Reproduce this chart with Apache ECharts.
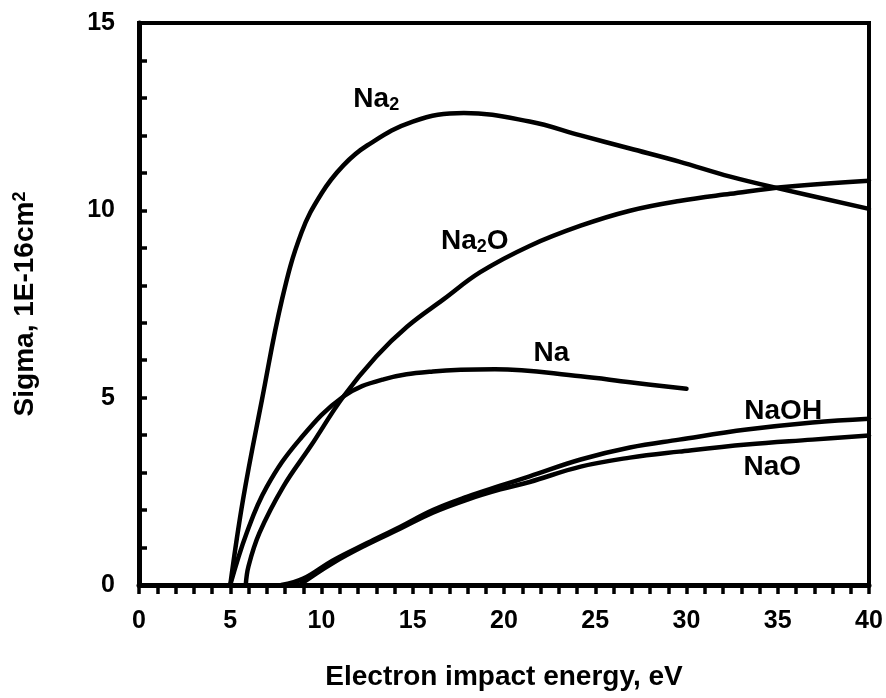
<!DOCTYPE html>
<html>
<head>
<meta charset="utf-8">
<script src="https://cdn.jsdelivr.net/npm/echarts@6/dist/echarts.min.js"></script>
<style>html,body{margin:0;padding:0;background:#fff;}#c{width:886px;height:698px;}</style>
</head>
<body>
<div id="c"></div>
<script>
// ---- data (x: electron energy eV, y: sigma 1E-16 cm^2) ----
const na2X  = [5.0, 5.7, 6.74, 7.84, 8.9, 10.0, 11.2, 12.5, 15.0, 17.8, 21.4, 24.2, 26.9, 29.6, 32.4, 35.1, 40];
const na2Y  = [0, 2.28, 4.95, 7.63, 9.4, 10.45, 11.2, 11.73, 12.37, 12.6, 12.37, 12.0, 11.65, 11.3, 10.9, 10.58, 10.04];
const na2oX = [5.85, 6.0, 6.6, 7.9, 9.4, 11.2, 13.0, 14.7, 16.7, 18.7, 21.4, 24.2, 26.9, 29.6, 32.4, 35.5, 40];
const na2oY = [0, 0.5, 1.39, 2.62, 3.7, 5.03, 6.1, 6.9, 7.63, 8.35, 9.05, 9.59, 9.99, 10.25, 10.44, 10.63, 10.79];
const naX   = [5.0, 5.9, 7.0, 8.8, 11.2, 13.4, 16.1, 19.5, 24.2, 26.9, 30.0];
const naY   = [0, 1.39, 2.62, 3.88, 5.03, 5.49, 5.70, 5.76, 5.57, 5.41, 5.24];
const naohX = [7.8, 9.0, 10.6, 12.5, 14.3, 16.1, 18.0, 19.8, 21.4, 24.2, 26.9, 29.6, 33.3, 36.9, 40];
const naohY = [0, 0.17, 0.65, 1.12, 1.55, 2.0, 2.36, 2.65, 2.9, 3.35, 3.67, 3.88, 4.15, 4.34, 4.44];
const naoX  = [8.8, 10.6, 12.5, 14.3, 16.1, 18.0, 19.8, 21.4, 24.2, 26.9, 29.6, 33.3, 36.9, 40];
const naoY  = [0, 0.58, 1.08, 1.5, 1.93, 2.28, 2.55, 2.75, 3.16, 3.40, 3.56, 3.75, 3.88, 3.99];
// curve labels: [x, y] in data units
const labelNa2  = [13.0, 12.96];
const labelNa2O = [18.4, 9.18];
const labelNa   = [22.6, 6.18];
const labelNaOH = [35.3, 4.63];
const labelNaO  = [34.7, 3.13];
const xTitle = 'Electron impact energy, eV';

const FONT = '"Liberation Sans", Arial, Helvetica, sans-serif';
const zip = (xs, ys) => xs.map((x, i) => [x, ys[i]]);
const richLab = {
  m:   {fontFamily: FONT, fontWeight: 'bold', fontSize: 28, color: '#000', lineHeight: 30},
  sub: {fontFamily: FONT, fontWeight: 'bold', fontSize: 18, color: '#000', lineHeight: 10, verticalAlign: 'bottom'}
};
function mk(coord, text) {
  return {
    symbol: 'circle', symbolSize: 0, silent: true,
    label: {show: true, position: 'inside', formatter: text, rich: richLab},
    data: [{coord: coord}]
  };
}
function line(name, data, mp) {
  return {
    type: 'line', name: name, data: data, showSymbol: false, smooth: 0.4,
    lineStyle: {color: '#000', width: 4.5, cap: 'round', join: 'round'},
    itemStyle: {color: '#000'},
    markPoint: mp, z: 3
  };
}

const chart = echarts.init(document.getElementById('c'), null, {renderer: 'canvas'});
chart.setOption({
  animation: false,
  backgroundColor: '#fff',
  grid: {left: 139, right: 17, top: 23, bottom: 113, show: true, borderColor: '#000', borderWidth: 4},
  xAxis: {
    type: 'value', min: 0, max: 40, interval: 5,
    name: xTitle, nameLocation: 'middle', nameGap: 78,
    nameTextStyle: {fontFamily: FONT, fontWeight: 'bold', fontSize: 28, color: '#000'},
    axisLine: {show: true, onZero: false, lineStyle: {color: '#000', width: 5}},
    axisTick: {show: true, inside: false, length: 9, lineStyle: {color: '#000', width: 3.5}},
    minorTick: {show: true, splitNumber: 5, length: 9, lineStyle: {color: '#000', width: 3.5}},
    axisLabel: {margin: 24, fontFamily: FONT, fontWeight: 'bold', fontSize: 25, color: '#000'},
    splitLine: {show: false}, minorSplitLine: {show: false}
  },
  yAxis: {
    type: 'value', min: 0, max: 15, interval: 5,
    name: 'Sigma, 1E-16cm{sup|2}', nameLocation: 'middle', nameGap: 100, nameRotate: 90,
    nameTextStyle: {fontFamily: FONT, fontWeight: 'bold', fontSize: 28, color: '#000',
      rich: {sup: {fontFamily: FONT, fontWeight: 'bold', fontSize: 18, color: '#000', verticalAlign: 'top', lineHeight: 12}}},
    axisLine: {show: true, onZero: false, lineStyle: {color: '#000', width: 5}},
    axisTick: {show: true, inside: true, length: 8, lineStyle: {color: '#000', width: 3.5}},
    minorTick: {show: true, splitNumber: 5, length: 8, lineStyle: {color: '#000', width: 3.5}},
    axisLabel: {margin: 24, fontFamily: FONT, fontWeight: 'bold', fontSize: 25, color: '#000'},
    splitLine: {show: false}, minorSplitLine: {show: false}
  },
  series: [
    line('Na2',  zip(na2X, na2Y),   mk(labelNa2,  '{m|Na}{sub|2}')),
    line('Na2O', zip(na2oX, na2oY), mk(labelNa2O, '{m|Na}{sub|2}{m|O}')),
    line('Na',   zip(naX, naY),     mk(labelNa,   '{m|Na}')),
    line('NaOH', zip(naohX, naohY), mk(labelNaOH, '{m|NaOH}')),
    line('NaO',  zip(naoX, naoY),   mk(labelNaO,  '{m|NaO}'))
  ]
});
</script>
</body>
</html>
